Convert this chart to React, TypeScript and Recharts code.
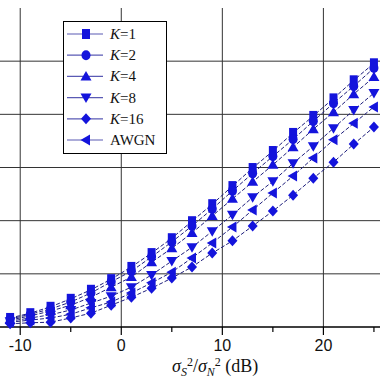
import React from 'react'
import {
  LineChart,
  Line,
  XAxis,
  YAxis,
  CartesianGrid,
  Legend,
} from 'recharts'

// SNR points (dB)
const snrValues = [-11, -9, -7, -5, -3, -1, 1, 3, 5, 7, 9, 11, 13, 15, 17, 19, 21, 23, 25]

// values (grid units, 0 at the x axis)
const k1Values = [0.17, 0.26, 0.38, 0.53, 0.7, 0.9, 1.13, 1.39, 1.67, 1.99, 2.31, 2.65, 2.99, 3.31, 3.65, 3.97, 4.3, 4.64, 4.96]
const k2Values = [0.15, 0.24, 0.34, 0.47, 0.64, 0.85, 1.05, 1.32, 1.6, 1.9, 2.22, 2.56, 2.89, 3.21, 3.53, 3.87, 4.21, 4.53, 4.87]
const k4Values = [0.13, 0.21, 0.3, 0.41, 0.56, 0.75, 0.94, 1.22, 1.48, 1.77, 2.09, 2.41, 2.73, 3.05, 3.38, 3.72, 4.04, 4.38, 4.7]
const k8Values = [0.11, 0.17, 0.23, 0.32, 0.45, 0.58, 0.75, 0.98, 1.24, 1.5, 1.8, 2.11, 2.44, 2.74, 3.08, 3.4, 3.74, 4.08, 4.4]
const k16Values = [0.06, 0.08, 0.09, 0.17, 0.26, 0.41, 0.56, 0.73, 0.92, 1.13, 1.39, 1.62, 1.9, 2.18, 2.48, 2.8, 3.1, 3.44, 3.76]
const awgnValues = [0.09, 0.13, 0.17, 0.24, 0.36, 0.47, 0.64, 0.83, 1.03, 1.3, 1.58, 1.88, 2.2, 2.52, 2.84, 3.18, 3.52, 3.83, 4.14]

const xTicks = [-10, -5, 0, 5, 10, 15, 20, 25]
const majorTicks = [-10, 0, 10, 20]
const gridY = [1, 2, 3, 4, 5]

const MARKER_COLOR = '#1414dc'
const LINE_COLOR = '#1e1e7c'
const SERIF = '"Liberation Serif", "Times New Roman", serif'

type Shape = 'square' | 'circle' | 'up' | 'down' | 'diamond' | 'left'

const series: { key: string; label: string; shape: Shape }[] = [
  { key: 'k1', label: '1', shape: 'square' },
  { key: 'k2', label: '2', shape: 'circle' },
  { key: 'k4', label: '4', shape: 'up' },
  { key: 'k8', label: '8', shape: 'down' },
  { key: 'k16', label: '16', shape: 'diamond' },
  { key: 'awgn', label: 'AWGN', shape: 'left' },
]

const chartData = snrValues.map((snr, i) => ({
  snr,
  k1: k1Values[i],
  k2: k2Values[i],
  k4: k4Values[i],
  k8: k8Values[i],
  k16: k16Values[i],
  awgn: awgnValues[i],
}))

const Marker = ({ shape, cx, cy }: { shape: Shape; cx: number; cy: number }) => {
  const p = { fill: MARKER_COLOR, stroke: 'none' }
  switch (shape) {
    case 'square':
      return <rect x={cx - 4} y={cy - 5} width={8} height={10} {...p} />
    case 'circle':
      return <ellipse cx={cx} cy={cy} rx={4.5} ry={5} {...p} />
    case 'up':
      return <polygon points={`${cx},${cy - 5.5} ${cx + 5.5},${cy + 4} ${cx - 5.5},${cy + 4}`} {...p} />
    case 'down':
      return <polygon points={`${cx},${cy + 5.5} ${cx + 5.5},${cy - 4} ${cx - 5.5},${cy - 4}`} {...p} />
    case 'diamond':
      return <polygon points={`${cx},${cy - 5.5} ${cx + 5},${cy} ${cx},${cy + 5.5} ${cx - 5},${cy}`} {...p} />
    default:
      return <polygon points={`${cx - 5.5},${cy} ${cx + 4},${cy - 5.5} ${cx + 4},${cy + 5.5}`} {...p} />
  }
}

const makeDot = (shape: Shape) => (props: any) => {
  const { cx, cy, index } = props
  if (cx == null || cy == null) return <g key={`${shape}-${index}`} />
  return (
    <g key={`${shape}-${index}`}>
      <Marker shape={shape} cx={cx} cy={cy} />
    </g>
  )
}

const XTick = (props: any) => {
  const { x, y, payload } = props
  const major = majorTicks.includes(payload.value)
  return (
    <g>
      <line x1={x} y1={y} x2={x} y2={y + (major ? 8 : 5)} stroke="#000" strokeWidth={1.2} />
      {major && (
        <text
          x={x}
          y={y + 24}
          textAnchor="middle"
          fontFamily='"Liberation Sans", Arial, sans-serif'
          fontSize={16}
          fill="#111"
        >
          {payload.value}
        </text>
      )}
    </g>
  )
}

// sigma_S^2 / sigma_N^2 (dB)
const AxisTitle = () => (
  <text x={172} y={372} fontFamily={SERIF} fontSize={18} fill="#111">
    <tspan fontStyle="italic">σ</tspan>
    <tspan fontSize={12} fontStyle="italic" dy={4}>S</tspan>
    <tspan fontSize={12} dy={-10}>2</tspan>
    <tspan dy={6}>/</tspan>
    <tspan fontStyle="italic">σ</tspan>
    <tspan fontSize={12} fontStyle="italic" dy={4}>N</tspan>
    <tspan fontSize={12} dy={-10}>2</tspan>
    <tspan dy={6}> (dB)</tspan>
  </text>
)

const LegendBox = () => (
  <div
    style={{
      width: 104,
      height: 133,
      border: '1px solid #000',
      background: '#fff',
      boxSizing: 'border-box',
    }}
  >
    <svg width={102} height={131} style={{ display: 'block' }}>
      {series.map((s, i) => {
        const y = 12 + i * 21.2
        return (
          <g key={s.key}>
            <line x1={3} y1={y} x2={39} y2={y} stroke="#5a5ab4" strokeWidth={1.2} />
            <Marker shape={s.shape} cx={22} cy={y} />
            <text x={46} y={y + 5} fontFamily={SERIF} fontSize={15} fill="#111">
              {s.key === 'awgn' ? (
                'AWGN'
              ) : (
                <>
                  <tspan fontStyle="italic">K</tspan>
                  <tspan>={s.label}</tspan>
                </>
              )}
            </text>
          </g>
        )
      })}
    </svg>
  </div>
)

export default function App() {
  return (
    <div style={{ position: 'absolute', left: 0, top: 0, width: 380, height: 380, background: '#fff' }}>
      <LineChart
        width={380}
        height={380}
        data={chartData}
        margin={{ top: 8, right: 0, left: 0, bottom: 0 }}
      >
        <CartesianGrid
          verticalValues={majorTicks}
          horizontalValues={gridY}
          stroke="#333"
          strokeWidth={1}
        />
        <XAxis
          dataKey="snr"
          type="number"
          domain={[-12, 25.6]}
          ticks={xTicks}
          interval={0}
          height={53}
          tickSize={0}
          tickMargin={0}
          tickLine={false}
          tick={<XTick />}
          axisLine={{ stroke: '#000', strokeWidth: 1.5 }}
          label={<AxisTitle />}
        />
        <YAxis hide type="number" domain={[0, 6]} ticks={[0, 1, 2, 3, 4, 5, 6]} />
        <Legend
          layout="vertical"
          align="center"
          verticalAlign="middle"
          wrapperStyle={{ left: 63, top: 21, width: 104, height: 133 }}
          content={() => <LegendBox />}
        />
        {series.map((s) => (
          <Line
            key={s.key}
            type="linear"
            dataKey={s.key}
            stroke={LINE_COLOR}
            strokeWidth={1}
            strokeDasharray="4 2"
            dot={makeDot(s.shape)}
            activeDot={false}
            isAnimationActive={false}
          />
        ))}
      </LineChart>
    </div>
  )
}
